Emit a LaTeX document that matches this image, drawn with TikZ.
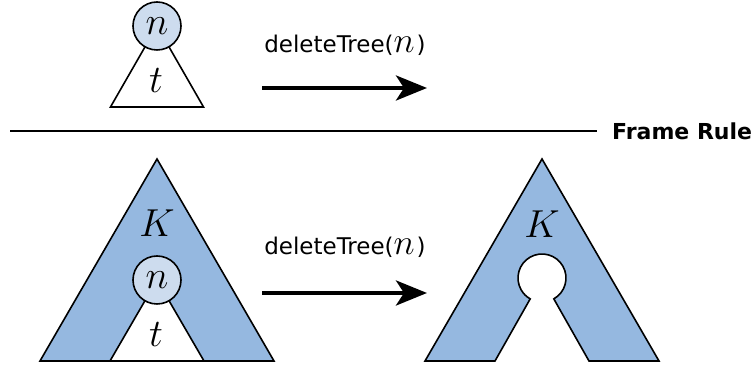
\RequirePackage{fix-cm}
\documentclass[tikz,border=0pt]{standalone}
\usepackage{fontspec}
\setsansfont{DejaVu Sans}
\usetikzlibrary{arrows.meta,calc}
\definecolor{treeblue}{HTML}{95B8E0}
\definecolor{nodeblue}{HTML}{CDDCEE}
\newcommand{\bigvar}[1]{{\fontsize{36}{38}\selectfont$#1$}}
\begin{document}
\begin{tikzpicture}[x=1pt,y=1pt,
  outline/.style={draw=black,line width=1.6pt,line join=miter},
  treenode/.style={circle,draw=black,line width=1.6pt,fill=nodeblue,
    minimum size=48pt,inner sep=0pt,font=\fontsize{39}{41}\selectfont},
  mathlbl/.style={inner sep=0pt,font=\fontsize{39}{41}\selectfont},
  oplbl/.style={inner sep=0pt,font=\sffamily\fontsize{23}{27}\selectfont},
  rulelbl/.style={inner sep=0pt,anchor=west,font=\sffamily\bfseries\fontsize{22}{26}\selectfont},
  steparrow/.style={line width=4pt,-{Stealth[length=31pt,width=25pt,inset=8pt]}}]
\useasboundingbox (0,0) rectangle (755,371);

% ---- premise: a single subtree t rooted at n
\draw[outline,fill=white] (110.5,264) -- (157,345) -- (203.5,264) -- cycle;
\node[treenode] (n1) at (157,345) {$n$};
\node[mathlbl] (t1) at (156,290) {$t$};

\node[oplbl] (op1) at (345,326) {deleteTree(\bigvar{n}\kern2pt)};
\coordinate (a1s) at (262,283);
\coordinate (a1e) at (427,283);
\draw[steparrow] (a1s) -- (a1e);

% ---- separator
\coordinate (r1) at (10,240);
\coordinate (r2) at (597,240);
\draw[line width=1.4pt] (r1) -- (r2);
\node[rulelbl] (fr) at (612,240) {Frame Rule};

% ---- conclusion, left: context K around the subtree
\draw[outline,fill=treeblue] (40,10) -- (157,212) -- (274,10) -- cycle;
\draw[outline,fill=white] (110,10) -- (157,91) -- (204,10) -- cycle;
\node[treenode] (n2) at (157,91) {$n$};
\node[mathlbl] (t2) at (156,36) {$t$};
\node[mathlbl] (k1) at (157,148) {$K$};

\node[oplbl] (op2) at (345,124) {deleteTree(\bigvar{n}\kern2pt)};
\coordinate (a2s) at (262,78);
\coordinate (a2e) at (427,78);
\draw[steparrow] (a2s) -- (a2e);

% ---- conclusion, right: K with the subtree removed
\coordinate (hc) at (542,93);
\draw[outline,fill=treeblue] (425,10) -- (542,212) -- (659,10) -- (589,10)
  -- ($(hc)+(-60.5:24)$) arc[start angle=-60.5,end angle=240.5,radius=24]
  -- (495,10) -- cycle;
\node[mathlbl] (k2) at (542,147) {$K$};
\end{tikzpicture}
\end{document}
